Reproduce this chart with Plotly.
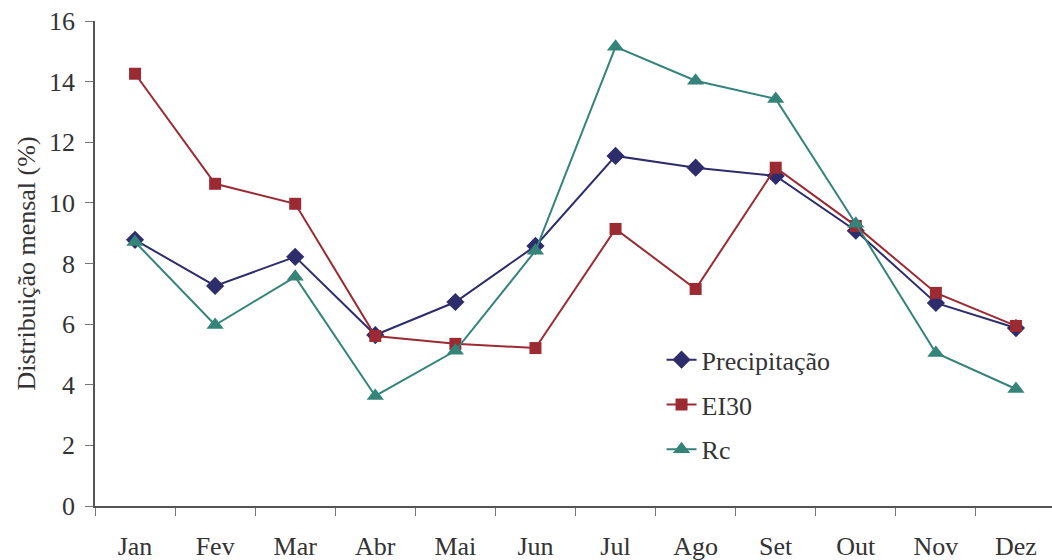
import plotly.graph_objects as go

months = ["Jan", "Fev", "Mar", "Abr", "Mai", "Jun", "Jul", "Ago", "Set", "Out", "Nov", "Dez"]
precipitacao = [8.78, 7.26, 8.22, 5.64, 6.73, 8.58, 11.55, 11.16, 10.89, 9.08, 6.70, 5.87]
ei30 = [14.26, 10.63, 9.97, 5.61, 5.35, 5.21, 9.14, 7.16, 11.16, 9.24, 7.03, 5.94]
rc = [8.71, 5.97, 7.56, 3.63, 5.12, 8.42, 15.15, 14.03, 13.43, 9.31, 5.05, 3.86]
y_ticks = [0, 2, 4, 6, 8, 10, 12, 14, 16]

font_family = "Liberation Serif"

fig = go.Figure()
series = [
    ("Precipitação", precipitacao, "#2e2d6b", "diamond", 14),
    ("EI30", ei30, "#9b2a33", "square", 12),
    ("Rc", rc, "#35847a", "triangle-up", 15),
]
for name, vals, color, sym, size in series:
    fig.add_trace(go.Scatter(
        x=months, y=vals, name=name, mode="lines+markers",
        line=dict(color=color, width=2),
        marker=dict(symbol=sym, size=size, color=color),
        legendgroup=name,
    ))

fig.update_layout(
    width=1052, height=560,
    margin=dict(l=95, r=0, t=21, b=54),
    paper_bgcolor="white", plot_bgcolor="white",
    font=dict(family=font_family, size=26, color="#333333"),
    legend=dict(
        x=0.592, y=0.35, xanchor="left", yanchor="top",
        font=dict(size=26, color="#333333", family=font_family),
        tracegroupgap=8, bgcolor="rgba(0,0,0,0)",
    ),
    xaxis=dict(
        type="category", range=[-0.5, 11.45], automargin=False,
        showline=True, linecolor="#555555", linewidth=1.5,
        ticks="outside", tickson="boundaries", ticklen=8, tickcolor="#777777",
        showgrid=False, ticklabelstandoff=16,
        tickfont=dict(size=26, family=font_family),
    ),
    yaxis=dict(
        range=[0, 16], tickvals=y_ticks, automargin=False,
        showline=True, linecolor="#555555", linewidth=1.5,
        ticks="outside", ticklen=8, tickcolor="#777777",
        showgrid=False, zeroline=False, ticklabelstandoff=5,
        tickfont=dict(size=26, family=font_family),
        title=dict(text="Distribuição mensal (%)", font=dict(size=26, family=font_family), standoff=6),
    ),
)

fig.write_html("out.html", config={"displayModeBar": False},
               post_script="document.body.style.margin='0';")
